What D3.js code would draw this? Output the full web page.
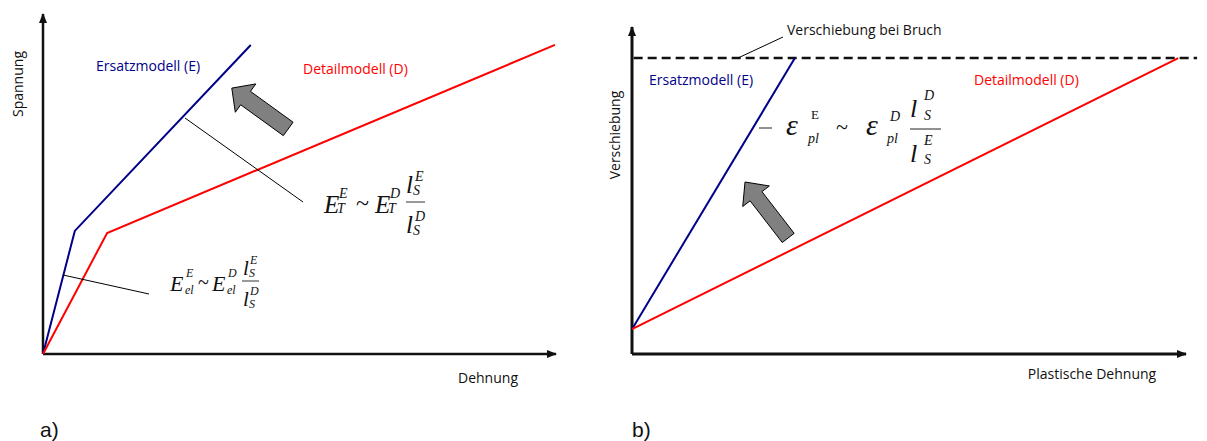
<!DOCTYPE html>
<html>
<head>
<meta charset="utf-8">
<script src="https://cdn.jsdelivr.net/npm/d3@7"></script>
<style>
  body { margin: 0; background: #fff; }
  svg text { font-family: 'Open Sans', sans-serif; }
  .math { font-family: 'Liberation Serif', 'Times New Roman', serif; font-style: italic; }
</style>
</head>
<body>
<svg id="chart" width="1207" height="441"></svg>
<script>
// panel a: stress-strain (arbitrary units 0..100)
const curveA_E = [[0, 0], [6.2, 36.2], [40.5, 90.9]]
const curveA_D = [[0, 0], [12.5, 35.6], [99.8, 90.9]]
const arrowA = { tip: [36.8, 78.2], tail: [47.8, 66.2] }

// panel b: displacement vs plastic strain
const curveB_E = [[0, 7.6], [29.4, 90.5]]
const curveB_D = [[0, 7.6], [98.6, 90.5]]
const breakLevel = 90.5
const breakRange = [0.3, 102]
const arrowB = { tip: [20.4, 52.6], tail: [28.2, 35.5] }

const labels = {
  a: { y: 'Spannung', x: 'Dehnung', E: 'Ersatzmodell (E)', D: 'Detailmodell (D)', tag: 'a)' },
  b: { y: 'Verschiebung', x: 'Plastische Dehnung', E: 'Ersatzmodell (E)', D: 'Detailmodell (D)', tag: 'b)', brk: 'Verschiebung bei Bruch' }
}

const blue = '#000088'
const red = '#ff0000'

const svg = d3.select('#chart')

const defs = svg.append('defs')
defs.append('marker')
  .attr('id', 'axhead')
  .attr('viewBox', '0 0 10 8')
  .attr('refX', 9).attr('refY', 4)
  .attr('markerUnits', 'userSpaceOnUse')
  .attr('markerWidth', 10).attr('markerHeight', 8)
  .attr('orient', 'auto')
  .append('path').attr('d', 'M0,0L10,4L0,8Z').attr('fill', '#111')

const xa = d3.scaleLinear().domain([0, 100]).range([43, 556])
const ya = d3.scaleLinear().domain([0, 100]).range([354, 14])
const xb = d3.scaleLinear().domain([0, 100]).range([632, 1186])
const yb = d3.scaleLinear().domain([0, 100]).range([354, 27])

function drawAxes(x, y, sw) {
  const g = svg.append('g')
  g.append('line')
    .attr('x1', x.range()[0]).attr('y1', y.range()[0])
    .attr('x2', x.range()[0]).attr('y2', y.range()[1])
    .attr('stroke', '#111').attr('stroke-width', sw)
    .attr('marker-end', 'url(#axhead)')
  g.append('line')
    .attr('x1', x.range()[0]).attr('y1', y.range()[0])
    .attr('x2', x.range()[1]).attr('y2', y.range()[0])
    .attr('stroke', '#111').attr('stroke-width', sw)
    .attr('marker-end', 'url(#axhead)')
}

function drawCurve(data, x, y, color) {
  const line = d3.line().x(d => x(d[0])).y(d => y(d[1]))
  svg.append('path').datum(data)
    .attr('d', line)
    .attr('fill', 'none')
    .attr('stroke', color)
    .attr('stroke-width', 2)
    .attr('stroke-linejoin', 'miter')
}

// block arrow from tail to tip
function drawBlockArrow(a, x, y, headLen, headHalf, shaftHalf) {
  const tx = x(a.tip[0]), ty = y(a.tip[1])
  const sx = x(a.tail[0]), sy = y(a.tail[1])
  const len = Math.hypot(tx - sx, ty - sy)
  const ux = (tx - sx) / len, uy = (ty - sy) / len
  const nx = -uy, ny = ux
  const bx = tx - ux * headLen, by = ty - uy * headLen
  const pts = [
    [sx + nx * shaftHalf, sy + ny * shaftHalf],
    [bx + nx * shaftHalf, by + ny * shaftHalf],
    [bx + nx * headHalf, by + ny * headHalf],
    [tx, ty],
    [bx - nx * headHalf, by - ny * headHalf],
    [bx - nx * shaftHalf, by - ny * shaftHalf],
    [sx - nx * shaftHalf, sy - ny * shaftHalf]
  ]
  svg.append('polygon')
    .attr('points', pts.map(p => p.join(',')).join(' '))
    .attr('fill', '#808080')
    .attr('stroke', '#000')
    .attr('stroke-width', 1)
}

function leader(x1, y1, x2, y2) {
  svg.append('line')
    .attr('x1', x1).attr('y1', y1).attr('x2', x2).attr('y2', y2)
    .attr('stroke', '#000').attr('stroke-width', 1)
}

function txt(s, x, y, opts = {}) {
  const t = svg.append('text').attr('x', x).attr('y', y).text(s)
    .attr('font-size', opts.size || 14)
    .attr('fill', opts.fill || '#111')
  if (opts.cls) t.attr('class', opts.cls)
  if (opts.anchor) t.attr('text-anchor', opts.anchor)
  if (opts.rotate) t.attr('transform', `rotate(-90,${x},${y})`)
  if (opts.family) t.style('font-family', opts.family)
  if (opts.italic === false) t.style('font-style', 'normal')
  return t
}

// ---------- panel a ----------
drawAxes(xa, ya, 2.5)
drawCurve(curveA_E, xa, ya, blue)
drawCurve(curveA_D, xa, ya, red)
drawBlockArrow(arrowA, xa, ya, 17, 17.5, 8.3)

txt(labels.a.E, 96, 71, { fill: blue })
txt(labels.a.D, 303, 74, { fill: red })
txt(labels.a.y, 23, 84, { rotate: true, anchor: 'middle' })
txt(labels.a.x, 488, 383, { anchor: 'middle' })
txt(labels.a.tag, 40, 437, { size: 21, family: 'Liberation Sans, Arial, sans-serif' })

leader(185, 118, 303, 202)
leader(63, 275, 149, 294)

// formula E_T^E ~ E_T^D l_S^E / l_S^D
txt('E', 324, 213, { cls: 'math', size: 25 })
txt('E', 339, 198, { cls: 'math', size: 14 })
txt('T', 337, 213, { cls: 'math', size: 14 })
txt('~', 356, 211, { cls: 'math', size: 24, italic: false })
txt('E', 375, 213, { cls: 'math', size: 25 })
txt('D', 390, 198, { cls: 'math', size: 14 })
txt('T', 388, 213, { cls: 'math', size: 14 })
txt('l', 406, 193, { cls: 'math', size: 25 })
txt('E', 415, 181, { cls: 'math', size: 14 })
txt('S', 413, 195, { cls: 'math', size: 14 })
svg.append('line').attr('x1', 406).attr('x2', 425).attr('y1', 202).attr('y2', 202).attr('stroke', '#333').attr('stroke-width', 1)
txt('l', 406, 233, { cls: 'math', size: 25 })
txt('D', 415, 221, { cls: 'math', size: 14 })
txt('S', 413, 235, { cls: 'math', size: 14 })

// formula E_el^E ~ E_el^D l_S^E / l_S^D
txt('E', 170, 291, { cls: 'math', size: 22 })
txt('E', 186, 277, { cls: 'math', size: 12 })
txt('el', 185, 294, { cls: 'math', size: 12 })
txt('~', 198, 289, { cls: 'math', size: 20, italic: false })
txt('E', 212, 291, { cls: 'math', size: 22 })
txt('D', 228, 277, { cls: 'math', size: 12 })
txt('el', 227, 294, { cls: 'math', size: 12 })
txt('l', 243, 275, { cls: 'math', size: 21 })
txt('E', 250, 264, { cls: 'math', size: 12 })
txt('S', 249, 277, { cls: 'math', size: 12 })
svg.append('line').attr('x1', 242).attr('x2', 259).attr('y1', 281).attr('y2', 281).attr('stroke', '#333').attr('stroke-width', 1)
txt('l', 243, 306, { cls: 'math', size: 21 })
txt('D', 250, 295, { cls: 'math', size: 12 })
txt('S', 249, 308, { cls: 'math', size: 12 })

// ---------- panel b ----------
drawAxes(xb, yb, 3)
svg.append('line')
  .attr('x1', xb(breakRange[0])).attr('x2', xb(breakRange[1]))
  .attr('y1', yb(breakLevel)).attr('y2', yb(breakLevel))
  .attr('stroke', '#111').attr('stroke-width', 2.5)
  .attr('stroke-dasharray', '9,5')
drawCurve(curveB_E, xb, yb, blue)
drawCurve(curveB_D, xb, yb, red)
drawBlockArrow(arrowB, xb, yb, 18, 16.8, 7.5)

txt(labels.b.brk, 787, 35)
leader(783, 37, 738, 58)
txt(labels.b.E, 649, 85, { fill: blue })
txt(labels.b.D, 974, 85, { fill: red })
txt(labels.b.y, 620, 135, { rotate: true, anchor: 'middle' })
txt(labels.b.x, 1092, 379, { anchor: 'middle' })
txt(labels.b.tag, 632, 437, { size: 21, family: 'Liberation Sans, Arial, sans-serif' })

// formula - eps_pl^E ~ eps_pl^D l_S^D / l_S^E
svg.append('line').attr('x1', 759).attr('x2', 772).attr('y1', 128).attr('y2', 128).attr('stroke', '#222').attr('stroke-width', 1)
txt('ε', 786, 135, { cls: 'math', size: 30 })
txt('E', 811, 119, { cls: 'math', size: 13, italic: false })
txt('pl', 808, 143, { cls: 'math', size: 14 })
txt('~', 836, 134, { cls: 'math', size: 22, italic: false })
txt('ε', 866, 135, { cls: 'math', size: 30 })
txt('D', 890, 121, { cls: 'math', size: 14 })
txt('pl', 887, 143, { cls: 'math', size: 14 })
txt('l', 910, 117, { cls: 'math', size: 26 })
txt('D', 924, 100, { cls: 'math', size: 14 })
txt('S', 924, 120, { cls: 'math', size: 14 })
svg.append('line').attr('x1', 910).attr('x2', 941).attr('y1', 129).attr('y2', 129).attr('stroke', '#222').attr('stroke-width', 1)
txt('l', 910, 162, { cls: 'math', size: 26 })
txt('E', 924, 145, { cls: 'math', size: 14 })
txt('S', 924, 164, { cls: 'math', size: 14 })
</script>
</body>
</html>
